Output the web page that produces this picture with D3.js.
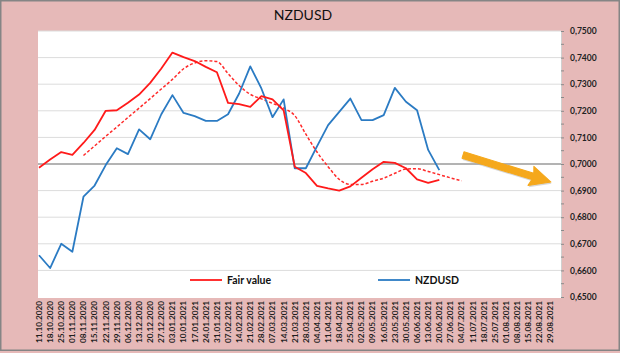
<!DOCTYPE html>
<html>
<head>
<meta charset="utf-8">
<script src="https://cdn.jsdelivr.net/npm/d3@7"></script>
<style>
  body { margin: 0; background: #fff; }
  svg { display: block; font-family: Lato, "Open Sans", sans-serif; }
</style>
</head>
<body>
<div id="chart"></div>
<script>
// weekly dates on the x axis
var dates = ["11.10.2020","18.10.2020","25.10.2020","01.11.2020","08.11.2020","15.11.2020","22.11.2020",
  "29.11.2020","06.12.2020","13.12.2020","20.12.2020","27.12.2020","03.01.2021","10.01.2021","17.01.2021",
  "24.01.2021","31.01.2021","07.02.2021","14.02.2021","21.02.2021","28.02.2021","07.03.2021","14.03.2021",
  "21.03.2021","28.03.2021","04.04.2021","11.04.2021","18.04.2021","25.04.2021","02.05.2021","09.05.2021",
  "16.05.2021","23.05.2021","30.05.2021","06.06.2021","13.06.2021","20.06.2021","27.06.2021","04.07.2021",
  "11.07.2021","18.07.2021","25.07.2021","01.08.2021","08.08.2021","15.08.2021","22.08.2021","29.08.2021"];

// NZDUSD close
var nzdusd = [0.6657,0.6609,0.6700,0.6670,0.6877,0.6919,0.6996,0.7059,0.7037,0.7130,0.7093,0.7187,0.7259,
  0.7192,0.7180,0.7162,0.7162,0.7187,0.7265,0.7367,0.7284,0.7176,0.7243,0.6984,0.6984,0.7066,0.7146,0.7196,
  0.7246,0.7165,0.7165,0.7184,0.7286,0.7234,0.7202,0.7053,0.6977];

// fair value
var fairValue = [0.6986,0.7017,0.7045,0.7034,0.7079,0.7128,0.7200,0.7202,0.7230,0.7261,0.7305,0.7359,0.7419,
  0.7402,0.7387,0.7365,0.7345,0.7230,0.7225,0.7215,0.7255,0.7243,0.7202,0.6990,0.6966,0.6918,0.6908,0.6900,
  0.6916,0.6948,0.6980,0.7008,0.7004,0.6984,0.6942,0.6929,0.6940];

// fair value trend (dashed), starts at 08.11.2020
var fairTrend = [null,null,null,null,0.7032,0.7068,0.7104,0.7139,0.7175,0.7210,0.7246,0.7282,0.7318,0.7358,
  0.7380,0.7388,0.7385,0.7340,0.7295,0.7262,0.7245,0.7228,0.7210,0.7182,0.7112,0.7045,0.6990,0.6942,0.6923,
  0.6923,0.6935,0.6947,0.6965,0.6981,0.6982,0.6972,0.6960,0.6948,0.6937];

var yTicks = [0.65,0.66,0.67,0.68,0.69,0.70,0.71,0.72,0.73,0.74,0.75];

var W = 620, H = 353;
var plot = {left: 38, right: 561, top: 31, bottom: 298};

var svg = d3.select("#chart").append("svg")
  .attr("width", W).attr("height", H);

// chart background + frame
svg.append("rect").attr("x", 0).attr("y", 0).attr("width", W).attr("height", H).attr("fill", "#e6b9b8");
svg.append("rect").attr("x", 0.75).attr("y", 0.75).attr("width", W - 1.5).attr("height", H - 3.5)
  .attr("fill", "none").attr("stroke", "#858585").attr("stroke-width", 1.5);

// plot area
svg.append("rect")
  .attr("x", plot.left).attr("y", plot.top)
  .attr("width", plot.right - plot.left).attr("height", plot.bottom - plot.top)
  .attr("fill", "#ffffff");

var x = d3.scalePoint().domain(dates).range([39, 550.5]);
var y = d3.scaleLinear().domain([0.65, 0.75]).range([297, 31]);

// gridlines
svg.append("g").selectAll("line")
  .data(yTicks.filter(function(d) { return d !== 0.70 && d !== 0.65; }))
  .enter().append("line")
    .attr("x1", plot.left).attr("x2", plot.right)
    .attr("y1", function(d) { return y(d); })
    .attr("y2", function(d) { return y(d); })
    .attr("stroke", "#dcdcdc").attr("stroke-width", 1);

// horizontal axis crossing at 0,7000
svg.append("line")
  .attr("x1", plot.left).attr("x2", plot.right)
  .attr("y1", y(0.70)).attr("y2", y(0.70))
  .attr("stroke", "#9a9a9a").attr("stroke-width", 1.3);

// right axis
var fmt = function(d) { return d3.format(".4f")(d).replace(".", ","); };
var yAxis = svg.append("g")
  .attr("transform", "translate(" + plot.right + ",0)")
  .call(d3.axisRight(y).tickValues(yTicks).tickFormat(fmt).tickSize(3).tickPadding(6));
yAxis.select(".domain").attr("stroke", "#d0d0d0");
yAxis.selectAll(".tick line").attr("stroke", "#8a8a8a");
yAxis.selectAll("text")
  .attr("font-family", "Lato, sans-serif")
  .attr("font-size", "8.5px").attr("font-weight", "bold").attr("fill", "#222");
// minor ticks
svg.append("g").selectAll("line")
  .data(d3.range(0, 10).map(function(i) { return 0.655 + i * 0.01; }))
  .enter().append("line")
    .attr("x1", plot.right).attr("x2", plot.right + 3)
    .attr("y1", function(d) { return y(d); })
    .attr("y2", function(d) { return y(d); })
    .attr("stroke", "#8a8a8a");

// x labels (rotated)
svg.append("g").selectAll("text")
  .data(dates)
  .enter().append("text")
    .attr("transform", function(d) { return "translate(" + x(d) + ",301) rotate(-90)"; })
    .attr("text-anchor", "end")
    .attr("dy", "0.35em")
    .attr("font-size", "8.2px").attr("font-weight", "bold").attr("fill", "#1e1e1e")
    .text(function(d) { return d; });

// lines
var line = d3.line()
  .defined(function(d) { return d != null; })
  .x(function(d, i) { return x(dates[i]); })
  .y(function(d) { return y(d); });

svg.append("path")
  .datum(fairTrend)
  .attr("fill", "none").attr("stroke", "#ff2a2a").attr("stroke-width", 1.5)
  .attr("stroke-dasharray", "3,2")
  .attr("d", line.curve(d3.curveMonotoneX));

line.curve(d3.curveLinear);

svg.append("path")
  .datum(nzdusd)
  .attr("fill", "none").attr("stroke", "#2b7bc3").attr("stroke-width", 1.8)
  .attr("stroke-linejoin", "round")
  .attr("d", line);

svg.append("path")
  .datum(fairValue)
  .attr("fill", "none").attr("stroke", "#ff1a1a").attr("stroke-width", 1.8)
  .attr("stroke-linejoin", "round")
  .attr("d", line);

// title
svg.append("text")
  .attr("x", 303).attr("y", 20)
  .attr("text-anchor", "middle")
  .attr("font-size", "14px").attr("fill", "#111")
  .text("NZDUSD");

// legend
var legend = [
  {name: "Fair value", color: "#ff1a1a", x: 190},
  {name: "NZDUSD", color: "#2b7bc3", x: 378}
];
var lg = svg.append("g").selectAll("g").data(legend).enter().append("g")
  .attr("transform", function(d) { return "translate(" + d.x + ",280)"; });
lg.append("line").attr("x1", 0).attr("x2", 32).attr("y1", 0).attr("y2", 0)
  .attr("stroke", function(d) { return d.color; }).attr("stroke-width", 1.8);
lg.append("text").attr("x", 37).attr("dy", "0.35em")
  .attr("font-size", "10.5px").attr("font-weight", "bold").attr("fill", "#111")
  .text(function(d) { return d.name; });

// orange arrow
var ax0 = 463, ay0 = 155, ax1 = 551, ay1 = 182;
var ang = Math.atan2(ay1 - ay0, ax1 - ax0);
var len = Math.hypot(ax1 - ax0, ay1 - ay0);
var arrow = svg.append("g")
  .attr("transform", "translate(" + ax0 + "," + ay0 + ") rotate(" + (ang * 180 / Math.PI) + ")");
var pts = [[0,-3.3],[len-19,-3.3],[len-21,-10],[len,0],[len-21,10],[len-19,3.3],[0,3.3]];
arrow.append("polygon")
  .attr("points", pts.map(function(p) { return (p[0] + 1) + "," + (p[1] + 1.5); }).join(" "))
  .attr("fill", "#b0b0b0").attr("opacity", 0.5);
arrow.append("polygon")
  .attr("points", pts.map(function(p) { return p.join(","); }).join(" "))
  .attr("fill", "#f5a81c").attr("stroke", "#f5a81c").attr("stroke-linejoin", "round").attr("stroke-width", 1);
</script>
</body>
</html>
